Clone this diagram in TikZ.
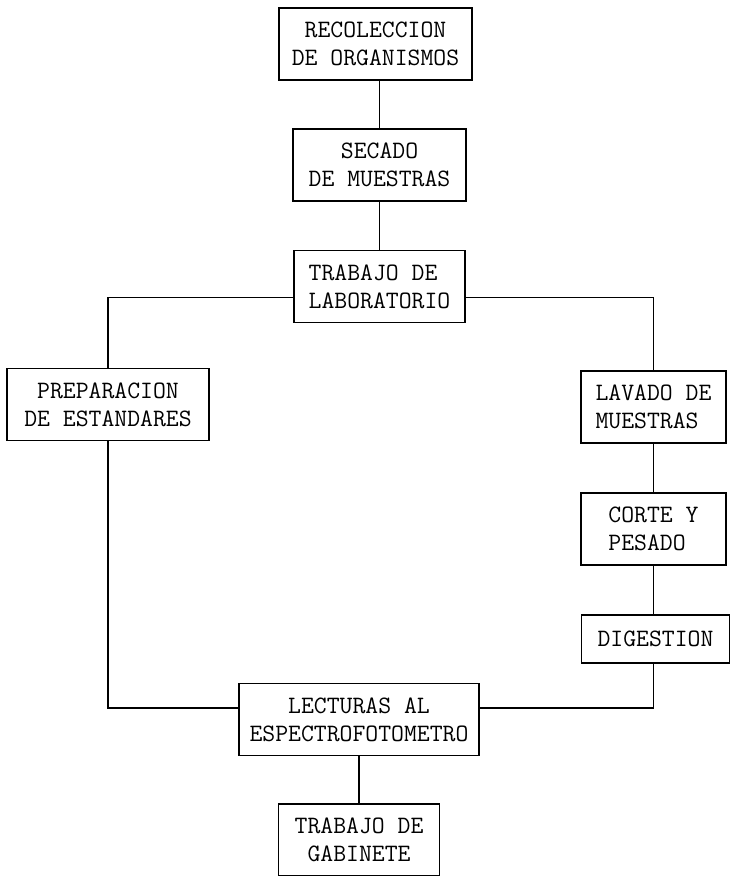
\documentclass[tikz,border=0pt]{standalone}
\usetikzlibrary{positioning}
\begin{document}
\begin{tikzpicture}[x=0.5pt, y=-0.5pt, paso/.style={draw, line width=0.9pt, inner xsep=1pt, inner ysep=4pt, minimum height=36pt, font=\fontsize{12.5}{14}\selectfont\ttfamily}, enlace/.style={line width=0.9pt}, node distance=24pt]
    \useasboundingbox (0,0) rectangle (732,876);
    \node(recoleccion)[paso, align=center, minimum width=96.5pt] at (375.5,44)
        { RECOLECCION \\ DE ORGANISMOS };
    \node(secado)[paso, align=center, minimum width=86.5pt, below=23.5pt of recoleccion, xshift=2pt]
        { SECADO \\ DE MUESTRAS };
    \node(laboratorio)[paso, align=left, minimum width=85.5pt, below=of secado]
        { TRABAJO DE \\ LABORATORIO };
    \node(estandares)[paso, align=center, minimum width=101pt] at (108,404.5)
        { PREPARACION \\ DE ESTANDARES };
    \node(lavado)[paso, align=left, minimum width=72.5pt] at (653.5,407)
        { LAVADO DE \\ MUESTRAS };
    \node(corte)[paso, align=left, minimum width=72.5pt, below=of lavado]
        { CORTE Y \\ PESADO };
    \node(digestion)[paso, minimum width=74pt, minimum height=24pt, below=of corte, xshift=1pt]
        { DIGESTION };
    \node(lecturas)[paso, align=center, minimum width=120pt] at (359,719.5)
        { LECTURAS AL \\ ESPECTROFOTOMETRO };
    \node(gabinete)[paso, align=center, minimum width=80.5pt, below=23.5pt of lecturas]
        { TRABAJO DE \\ GABINETE };

    \draw[enlace] (recoleccion.south -| secado.north) -- (secado.north);
    \draw[enlace] (secado.south) -- (secado.south |- laboratorio.north);
    \draw[enlace] ([yshift=-5.5pt]laboratorio.west) -| (estandares.north);
    \draw[enlace] ([yshift=-5.5pt]laboratorio.east) -| (lavado.north);
    \draw[enlace] (lavado) -- (corte);
    \draw[enlace] (corte.south) -- (corte.south |- digestion.north);
    \draw[enlace] (corte.south |- digestion.south) |- ([yshift=5.75pt]lecturas.east);
    \draw[enlace] (estandares.south) |- ([yshift=5.75pt]lecturas.west);
    \draw[enlace] (lecturas) -- (gabinete);
\end{tikzpicture}
\end{document}
